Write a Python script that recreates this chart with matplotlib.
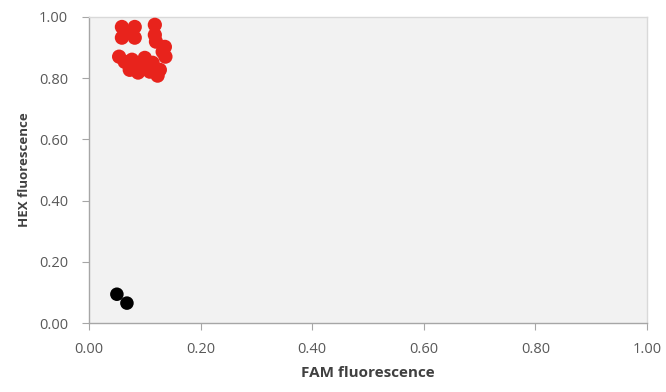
import matplotlib
matplotlib.use("Agg")
import matplotlib.pyplot as plt

# Allele cluster: HEX-positive samples
hex_fam = [0.059, 0.082, 0.059, 0.082, 0.070, 0.118, 0.118, 0.120, 0.136, 0.137,
           0.132, 0.054, 0.064, 0.077, 0.091, 0.088, 0.104, 0.114, 0.127, 0.123,
           0.073, 0.100, 0.109]
hex_hex = [0.967, 0.967, 0.932, 0.932, 0.948, 0.974, 0.941, 0.919, 0.902, 0.870,
           0.886, 0.870, 0.853, 0.860, 0.844, 0.818, 0.834, 0.850, 0.827, 0.808,
           0.827, 0.866, 0.821]

# No-template controls
ntc_fam = [0.050, 0.068]
ntc_hex = [0.094, 0.065]

ticks = [0.0, 0.2, 0.4, 0.6, 0.8, 1.0]
tick_labels = ["0.00", "0.20", "0.40", "0.60", "0.80", "1.00"]

plt.rcParams['font.family'] = ['Open Sans', 'DejaVu Sans']

fig = plt.figure(figsize=(6.66, 3.92), dpi=100)
ax = fig.add_axes([0.1336, 0.176, 0.838, 0.781])
ax.set_facecolor('#f2f2f2')

ax.scatter(hex_fam, hex_hex, s=105, color='#e8231c', edgecolors='none', zorder=3)
ax.scatter(ntc_fam, ntc_hex, s=95, color='#000000', edgecolors='none', zorder=3)

ax.set_xlim(0, 1)
ax.set_ylim(0, 1)
ax.set_xticks(ticks)
ax.set_xticklabels(tick_labels)
ax.set_yticks(ticks)
ax.set_yticklabels(tick_labels)

for side in ['left', 'bottom']:
    ax.spines[side].set_color('#a6a6a6')
    ax.spines[side].set_linewidth(1.0)
for side in ['top', 'right']:
    ax.spines[side].set_color('#d9d9d9')
    ax.spines[side].set_linewidth(1.0)

ax.tick_params(axis='both', direction='out', length=5, width=0.8,
               color='#a6a6a6', labelcolor='#595959', labelsize=10.5)
ax.tick_params(axis='x', pad=9)
ax.tick_params(axis='y', pad=10)

ax.set_xlabel('FAM fluorescence', fontsize=11, fontweight='bold',
              color='#404040', labelpad=6)
ax.set_ylabel('HEX fluorescence', fontsize=9.5, fontweight='bold',
              color='#404040', labelpad=6)

fig.savefig('out.png', dpi=100, facecolor='white')
